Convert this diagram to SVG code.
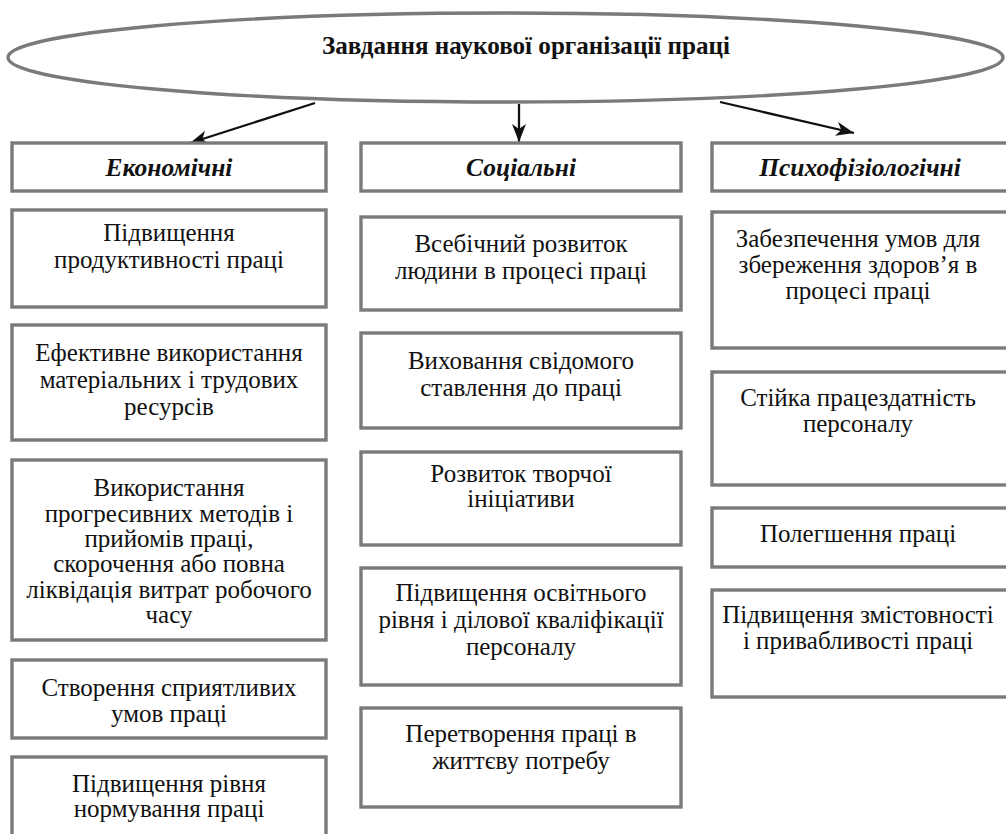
<svg xmlns="http://www.w3.org/2000/svg" width="1006" height="834" viewBox="0 0 1006 834">
  <style>
    .frame { fill: #ffffff; stroke: #7a7a7a; stroke-width: 3.4; }
    .title { font-family: "Liberation Serif", "Times New Roman", serif; font-weight: bold; font-size: 26px; fill: #111; text-anchor: middle; }
    .head { font-family: "Liberation Serif", "Times New Roman", serif; font-weight: bold; font-style: italic; font-size: 25.5px; fill: #111; text-anchor: middle; }
    .body { font-family: "Liberation Serif", "Times New Roman", serif; font-size: 25px; fill: #111; text-anchor: middle; }
    .conn { stroke: #111; stroke-width: 2.3; fill: none; marker-end: url(#arrow); }
  </style>
  <defs>
    <marker id="arrow" markerUnits="userSpaceOnUse" markerWidth="18" markerHeight="14" viewBox="0 0 18 14" refX="18" refY="7" orient="auto">
      <path d="M0,0 L18,7 L0,14 L5,7 z" fill="#111"/>
    </marker>
  </defs>
  <rect width="1006" height="834" fill="#ffffff"/>

  <!-- root -->
  <g id="root">
    <ellipse class="frame" cx="505.5" cy="57.5" rx="497.5" ry="44.5"/>
    <text class="title" x="526" y="54" textLength="408" lengthAdjust="spacingAndGlyphs">Завдання наукової організації праці</text>
  </g>

  <!-- connectors -->
  <g id="connectors">
    <line class="conn" x1="315" y1="103" x2="190" y2="143"/>
    <line class="conn" x1="519" y1="104" x2="519" y2="142"/>
    <line class="conn" x1="720" y1="102" x2="854" y2="133"/>
  </g>

  <!-- category headers -->
  <g id="head-economic">
    <rect class="frame" x="12" y="143" width="314" height="48"/>
    <text class="head" x="169" y="176">Економічні</text>
  </g>
  <g id="head-social">
    <rect class="frame" x="361" y="143" width="320" height="48"/>
    <text class="head" x="521" y="176">Соціальні</text>
  </g>
  <g id="head-psycho">
    <rect class="frame" x="712" y="143" width="300" height="48"/>
    <text class="head" x="860" y="176">Психофізіологічні</text>
  </g>

  <!-- economic column -->
  <g id="eco-1">
    <rect class="frame" x="12" y="210" width="314" height="97"/>
    <text class="body" x="169" y="241">Підвищення</text>
    <text class="body" x="169" y="268">продуктивності праці</text>
  </g>
  <g id="eco-2">
    <rect class="frame" x="12" y="325" width="314" height="115"/>
    <text class="body" x="169" y="361">Ефективне використання</text>
    <text class="body" x="169" y="388">матеріальних і трудових</text>
    <text class="body" x="169" y="415">ресурсів</text>
  </g>
  <g id="eco-3">
    <rect class="frame" x="12" y="460" width="314" height="180"/>
    <text class="body" x="169" y="496">Використання</text>
    <text class="body" x="169" y="521.5">прогресивних методів і</text>
    <text class="body" x="169" y="547">прийомів праці,</text>
    <text class="body" x="169" y="572">скорочення або повна</text>
    <text class="body" x="169" y="597.5">ліквідація витрат робочого</text>
    <text class="body" x="169" y="623">часу</text>
  </g>
  <g id="eco-4">
    <rect class="frame" x="12" y="660" width="314" height="78"/>
    <text class="body" x="169" y="696">Створення сприятливих</text>
    <text class="body" x="169" y="722">умов праці</text>
  </g>
  <g id="eco-5">
    <rect class="frame" x="12" y="757" width="314" height="90"/>
    <text class="body" x="169" y="792">Підвищення рівня</text>
    <text class="body" x="169" y="817">нормування праці</text>
  </g>

  <!-- social column -->
  <g id="soc-1">
    <rect class="frame" x="361" y="217" width="320" height="93"/>
    <text class="body" x="521" y="252">Всебічний розвиток</text>
    <text class="body" x="521" y="279">людини в процесі праці</text>
  </g>
  <g id="soc-2">
    <rect class="frame" x="361" y="333" width="320" height="95"/>
    <text class="body" x="521" y="369">Виховання свідомого</text>
    <text class="body" x="521" y="396">ставлення до праці</text>
  </g>
  <g id="soc-3">
    <rect class="frame" x="361" y="452" width="320" height="93"/>
    <text class="body" x="521" y="482">Розвиток творчої</text>
    <text class="body" x="521" y="507">ініціативи</text>
  </g>
  <g id="soc-4">
    <rect class="frame" x="361" y="568" width="320" height="117"/>
    <text class="body" x="521" y="601">Підвищення освітнього</text>
    <text class="body" x="521" y="628">рівня і ділової кваліфікації</text>
    <text class="body" x="521" y="655">персоналу</text>
  </g>
  <g id="soc-5">
    <rect class="frame" x="361" y="708" width="320" height="99"/>
    <text class="body" x="521" y="742">Перетворення праці в</text>
    <text class="body" x="521" y="769">життєву потребу</text>
  </g>

  <!-- psychophysiological column -->
  <g id="psy-1">
    <rect class="frame" x="712" y="212" width="300" height="136"/>
    <text class="body" x="858" y="247">Забезпечення умов для</text>
    <text class="body" x="858" y="273">збереження здоров’я в</text>
    <text class="body" x="858" y="299">процесі праці</text>
  </g>
  <g id="psy-2">
    <rect class="frame" x="712" y="372" width="300" height="113"/>
    <text class="body" x="858" y="406">Стійка працездатність</text>
    <text class="body" x="858" y="432">персоналу</text>
  </g>
  <g id="psy-3">
    <rect class="frame" x="712" y="508" width="300" height="59"/>
    <text class="body" x="858" y="542">Полегшення праці</text>
  </g>
  <g id="psy-4">
    <rect class="frame" x="712" y="590" width="300" height="107"/>
    <text class="body" x="858" y="623">Підвищення змістовності</text>
    <text class="body" x="858" y="649">і привабливості праці</text>
  </g>
</svg>
